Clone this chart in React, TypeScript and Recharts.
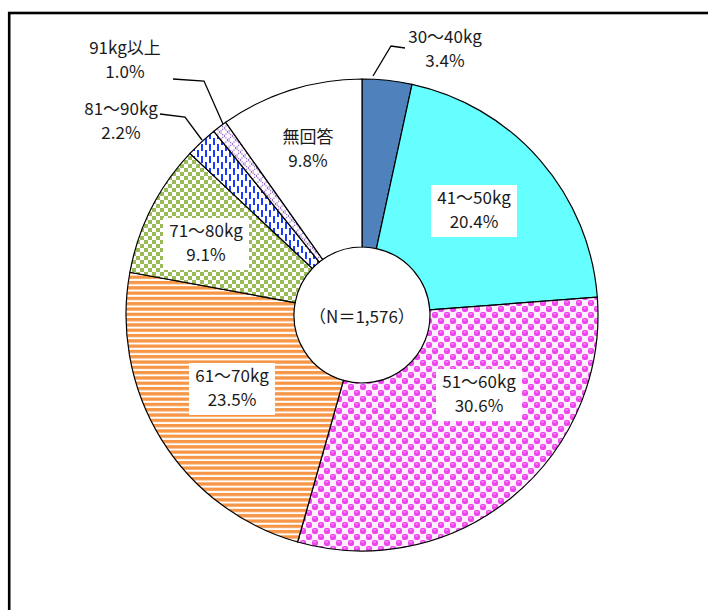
import React from 'react';
import { PieChart, Pie, Cell } from 'recharts';

const CATEGORIES = ['30～40kg', '41～50kg', '51～60kg', '61～70kg', '71～80kg', '81～90kg', '91kg以上', '無回答'];
const PERCENTS = [3.4, 20.4, 30.6, 23.5, 9.1, 2.2, 1.0, 9.8];
const TOTAL_LABEL = '（N＝1,576）';
const FILLS = ['#4F81BD', '#66FFFF', 'url(#pMagenta)', 'url(#pOrange)', 'url(#pGreen)', 'url(#pBlue)', 'url(#pPurple)', '#FFFFFF'];

const data = CATEGORIES.map((name, i) => ({ name, value: PERCENTS[i], pct: PERCENTS[i].toFixed(1) + '%' }));

const W = 708;
const H = 610;
const CX = 362;
const CY = 315;
const FONT = '"Noto Sans CJK JP", "Noto Sans", sans-serif';

// label block centres relative to pie centre
const LABEL_POS: [number, number][] = [
  [83, -265], [112, -104], [117, 80], [-130, 74], [-156, -71], [-241, -193], [-237, -254], [-54, -165],
];
const LABEL_BOX = [false, true, true, true, true, false, false, false];
const LEADERS: Record<number, [number, number][]> = {
  0: [[11, -239], [29, -269], [43, -267]],
  5: [[-202, -201], [-177, -198], [-160, -175]],
  6: [[-189, -236], [-158, -234], [-139, -191]],
};

const renderLabel = (props: any) => {
  const { index } = props;
  const cx = props.cx ?? CX;
  const cy = props.cy ?? CY;
  const [dx, dy] = LABEL_POS[index];
  const x = cx + dx;
  const y = cy + dy;
  const d = data[index];
  const leader = LEADERS[index];
  return (
    <g key={'lbl' + index}>
      {index === 0 && (
        <text x={cx} y={cy + 3} textAnchor="middle" dominantBaseline="middle" fontSize={17} fontFamily={FONT} fill="#1a1a1a">
          {TOTAL_LABEL}
        </text>
      )}
      {leader && (
        <polyline
          points={leader.map(([a, b]) => `${cx + a},${cy + b}`).join(' ')}
          fill="none"
          stroke="#000"
          strokeWidth={1.3}
        />
      )}
      {LABEL_BOX[index] && <rect x={x - 43} y={y - 26} width={86} height={52} fill="#FFFFFF" />}
      <text x={x} y={y - 12} textAnchor="middle" dominantBaseline="middle" fontSize={17} fontFamily={FONT} fill="#1a1a1a">
        {d.name}
      </text>
      <text x={x} y={y + 12} textAnchor="middle" dominantBaseline="middle" fontSize={17} fontFamily={FONT} fill="#1a1a1a">
        {d.pct}
      </text>
    </g>
  );
};

export default function App() {
  return (
    <div style={{ position: 'absolute', left: 0, top: 0, width: W, height: H, background: '#fff', overflow: 'hidden' }}>
      <svg width={W} height={H} style={{ position: 'absolute', left: 0, top: 0 }}>
        <defs>
          <pattern id="pMagenta" patternUnits="userSpaceOnUse" width={12} height={12}>
            <rect width={12} height={12} fill="#FFF0FF" />
            <rect x={0} y={0} width={6} height={6} rx={2.2} fill="#EE44EE" />
            <rect x={6} y={6} width={6} height={6} rx={2.2} fill="#EE44EE" />
            <rect x={1.5} y={1.2} width={2.4} height={1.4} rx={0.7} fill="#FFA8FF" />
            <rect x={7.5} y={7.2} width={2.4} height={1.4} rx={0.7} fill="#FFA8FF" />
          </pattern>
          <pattern id="pOrange" patternUnits="userSpaceOnUse" width={10} height={5.3}>
            <rect width={10} height={5.3} fill="#FFFFFF" />
            <rect width={10} height={3.3} fill="#F79646" />
          </pattern>
          <pattern id="pGreen" patternUnits="userSpaceOnUse" width={8} height={8}>
            <rect width={8} height={8} fill="#FFFFFF" />
            <rect width={4} height={4} fill="#9BBB59" />
            <rect x={4} y={4} width={4} height={4} fill="#9BBB59" />
          </pattern>
          <pattern id="pBlue" patternUnits="userSpaceOnUse" width={8} height={12}>
            <rect width={8} height={12} fill="#FFFFFF" />
            <rect x={1} y={0} width={2} height={7} fill="#1A3CFF" />
            <rect x={5} y={6} width={2} height={7} fill="#1A3CFF" />
            <rect x={5} y={-6} width={2} height={7} fill="#1A3CFF" />
          </pattern>
          <pattern id="pPurple" patternUnits="userSpaceOnUse" width={8} height={8}>
            <rect width={8} height={8} fill="#FFFFFF" />
            <path d="M0 0 L4 4 L8 0 M0 8 L4 4 L8 8" stroke="#9966CC" strokeWidth={1.3} strokeDasharray="1.2 1" fill="none" />
          </pattern>
        </defs>
        <rect x={9.2} y={13} width={900} height={800} fill="none" stroke="#000" strokeWidth={2.6} />
      </svg>
      <div style={{ position: 'absolute', left: 0, top: 0 }}>
        <PieChart width={W} height={H} margin={{ top: 0, right: 0, bottom: 0, left: 0 }}>
          <Pie
            data={data}
            dataKey="value"
            nameKey="name"
            cx={CX}
            cy={CY}
            innerRadius={68}
            outerRadius={236}
            startAngle={90}
            endAngle={-270}
            stroke="#000"
            strokeWidth={1.2}
            isAnimationActive={false}
            label={renderLabel}
            labelLine={false}
          >
            {data.map((d, i) => (
              <Cell key={d.name} fill={FILLS[i]} />
            ))}
          </Pie>
        </PieChart>
      </div>
    </div>
  );
}
